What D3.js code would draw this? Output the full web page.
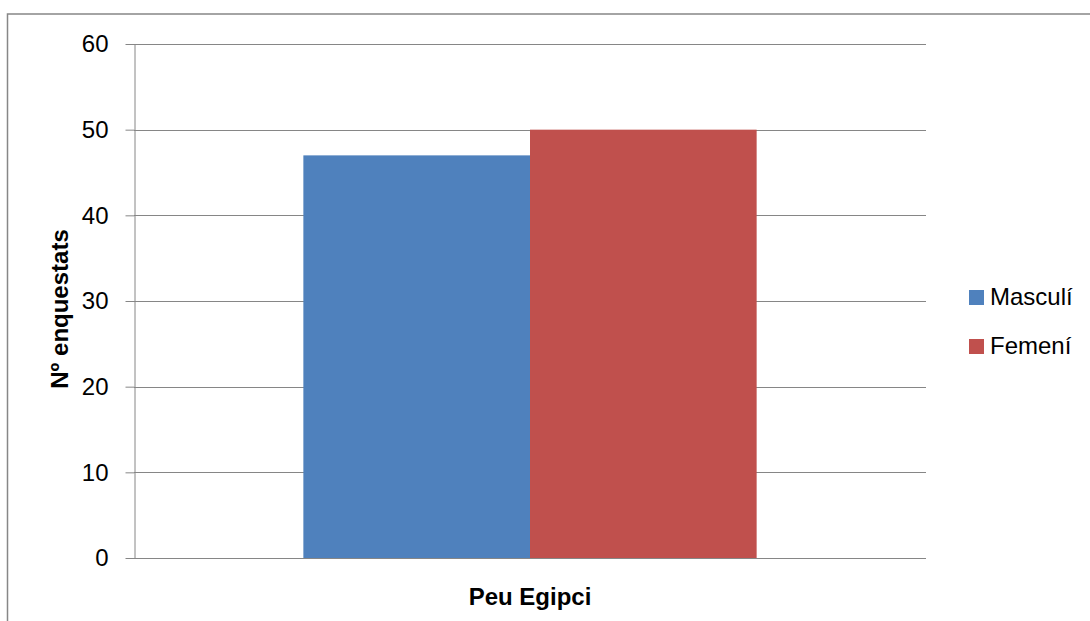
<!DOCTYPE html>
<html><head><meta charset="utf-8">
<script src="https://cdn.jsdelivr.net/npm/d3@7"></script>
<style>body{margin:0;background:#fff}svg{display:block}</style>
</head><body>
<svg id="c" width="1090" height="621"></svg>
<script>
const categories = ["Peu Egipci"];
const seriesNames = ["Masculí", "Femení"];
const masculi = [47];
const femeni = [50];
const seriesValues = [masculi, femeni];
const colors = ["#4F81BD", "#C0504D"];
const yTicks = [0, 10, 20, 30, 40, 50, 60];

const font = "'Liberation Sans', Arial, sans-serif";
const svg = d3.select("#c");
const L = 134, R = 926, T = 44, B = 558;

// outer frame
svg.append("path").attr("d", "M7.5,621 V14 H1090")
  .attr("fill", "none").attr("stroke", "#878787").attr("stroke-width", 1.5);

const y = d3.scaleLinear().domain([0, 60]).range([B, T]);
const x0 = d3.scaleBand().domain(categories).range([L, R]).paddingInner(0.272).paddingOuter(0.272);
const x1 = d3.scaleBand().domain(seriesNames).range([0, x0.bandwidth()]);

// gridlines
svg.append("g").selectAll("line").data(yTicks).join("line")
  .attr("x1", L).attr("x2", R)
  .attr("y1", d => Math.round(y(d)) + 0.5).attr("y2", d => Math.round(y(d)) + 0.5)
  .attr("stroke", "#868686").attr("stroke-width", 1);

// bars
categories.forEach((cat, ci) => {
  seriesNames.forEach((s, si) => {
    const v = seriesValues[si][ci];
    svg.append("rect")
      .attr("x", x0(cat) + x1(s)).attr("width", x1.bandwidth())
      .attr("y", y(v)).attr("height", y(0) - y(v))
      .attr("fill", colors[si]);
  });
});

// y axis
const yAxis = svg.append("g").attr("transform", `translate(${L + 0.5},0)`)
  .call(d3.axisLeft(y).tickValues(yTicks).tickSize(9).tickPadding(17).tickSizeOuter(0));
yAxis.select(".domain").attr("stroke", "#868686");
yAxis.selectAll(".tick line").attr("stroke", "#868686");
yAxis.selectAll(".tick text").attr("font-family", font).attr("font-size", 24).attr("fill", "#000");

// baseline axis
svg.append("line").attr("x1", L).attr("x2", R).attr("y1", Math.round(y(0)) + 0.5).attr("y2", Math.round(y(0)) + 0.5)
  .attr("stroke", "#868686");

// axis titles
svg.append("text").attr("x", x0(categories[0]) + x0.bandwidth() / 2).attr("y", 605)
  .attr("text-anchor", "middle").attr("font-family", font).attr("font-weight", "bold")
  .attr("font-size", 24).text(categories[0]);

svg.append("text").attr("transform", `translate(68,309) rotate(-90)`)
  .attr("text-anchor", "middle").attr("font-family", font).attr("font-weight", "bold")
  .attr("font-size", 24).text("Nº enquestats");

// legend
const leg = svg.append("g").selectAll("g").data(seriesNames).join("g")
  .attr("transform", (d, i) => `translate(969,${290 + i * 49})`);
leg.append("rect").attr("width", 15).attr("height", 15).attr("fill", (d, i) => colors[i]);
leg.append("text").attr("x", 21).attr("y", 15).attr("font-family", font).attr("font-size", 24)
  .text(d => d);
</script>
</body></html>
